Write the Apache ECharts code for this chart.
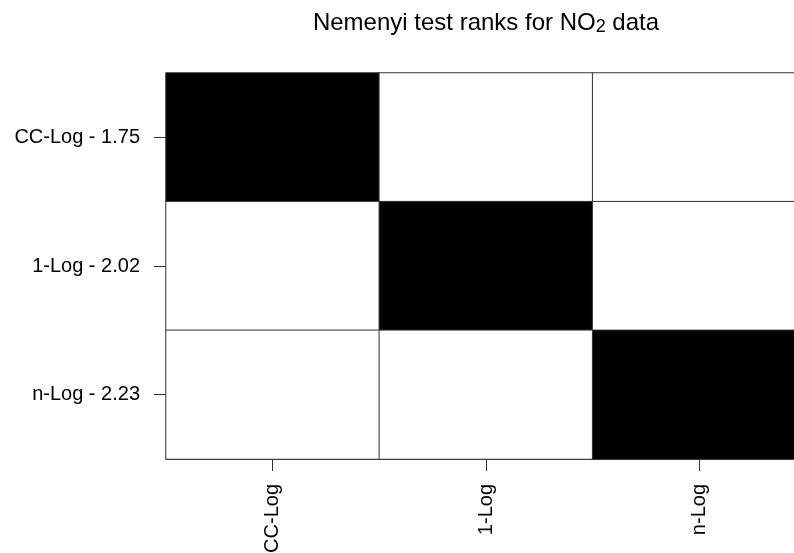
<!DOCTYPE html>
<html>
<head>
<meta charset="utf-8">
<script src="https://cdn.jsdelivr.net/npm/echarts@6/dist/echarts.min.js"></script>
<style>
  html, body { margin: 0; padding: 0; background: #ffffff; overflow: hidden; width: 794px; height: 553px; }
  /* the plot box runs a little past the right edge of the page */
  #chart { width: 812px; height: 553px; }
</style>
</head>
<body>
<div id="chart"></div>
<script>
// Methods compared, with their mean Nemenyi ranks
const methods = ['CC-Log', '1-Log', 'n-Log'];
const meanRanks = [1.75, 2.02, 2.23];
// Pairwise significance-group matrix (1 = same method, 0 = different)
const matrixRows = [
  [1, 0, 0],
  [0, 1, 0],
  [0, 0, 1]
];

const rowLabels = methods.map((m, i) => m + ' - ' + meanRanks[i].toFixed(2));

const cells = [];
matrixRows.forEach((row, r) => {
  row.forEach((v, c) => cells.push([c, r, v]));
});

const font = '"Liberation Sans", Arial, Helvetica, sans-serif';
const chart = echarts.init(document.getElementById('chart'), null, { renderer: 'canvas' });

chart.setOption({
  animation: false,
  backgroundColor: '#ffffff',
  graphic: [{
    type: 'text',
    x: 486,
    y: 10,
    style: {
      text: '{a|Nemenyi test ranks for NO}{s|2}{a| data}',
      align: 'center',
      verticalAlign: 'top',
      rich: {
        a: { fontFamily: font, fontSize: 24, fill: '#000', lineHeight: 26 },
        s: { fontFamily: font, fontSize: 18, fill: '#000', lineHeight: 15, verticalAlign: 'bottom' }
      }
    }
  }],
  grid: { left: 166, top: 73, width: 640, height: 386, outerBoundsMode: 'none', containLabel: false },
  xAxis: {
    type: 'category',
    data: methods,
    axisLine: { show: true, lineStyle: { color: '#333', width: 1 } },
    axisTick: { show: true, alignWithLabel: true, length: 12, lineStyle: { color: '#333' } },
    axisLabel: { rotate: 90, margin: 25, color: '#000', fontSize: 20, fontFamily: font },
    splitLine: { show: false }
  },
  yAxis: {
    type: 'category',
    data: rowLabels,
    inverse: true,
    axisLine: { show: true, lineStyle: { color: '#333', width: 1 } },
    axisTick: { show: true, alignWithLabel: true, length: 12, lineStyle: { color: '#333' } },
    axisLabel: { margin: 26, color: '#000', fontSize: 20, fontFamily: font },
    splitLine: { show: false }
  },
  visualMap: {
    show: false,
    min: 0,
    max: 1,
    inRange: { color: ['#ffffff', '#000000'] }
  },
  series: [{
    type: 'heatmap',
    data: cells,
    itemStyle: { borderColor: '#333', borderWidth: 1 },
    emphasis: { disabled: true }
  }]
});
</script>
</body>
</html>
